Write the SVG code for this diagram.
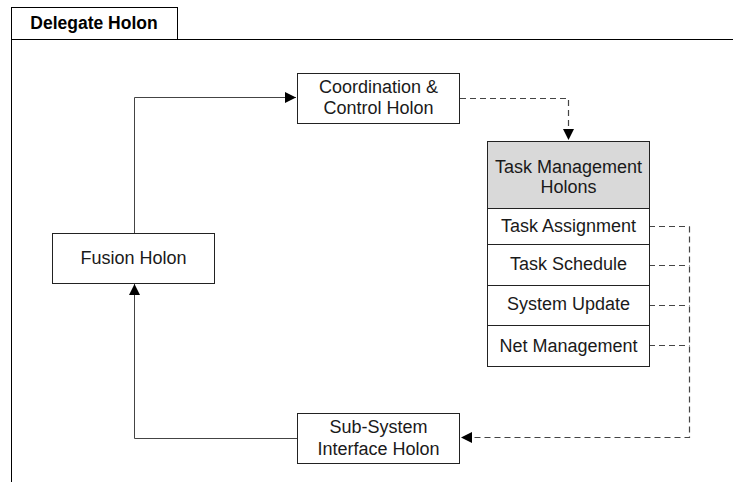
<svg xmlns="http://www.w3.org/2000/svg" width="733" height="482" viewBox="0 0 733 482">
  <style>
    .box { fill: #ffffff; stroke: #222222; stroke-width: 1; }
    .head { fill: #d9d9d9; stroke: #222222; stroke-width: 1; }
    .lbl { font-family: "Liberation Sans", Arial, sans-serif; font-size: 18px; fill: #1a1a1a; text-anchor: middle; }
    .title { font-family: "Liberation Sans", Arial, sans-serif; font-size: 17.5px; font-weight: bold; fill: #000000; text-anchor: middle; }
    .solid { fill: none; stroke: #444444; stroke-width: 1; }
    .dash { fill: none; stroke: #444444; stroke-width: 1.2; stroke-dasharray: 6 4; }
  </style>
  <defs>
    <marker id="arrow" markerWidth="12" markerHeight="12" refX="11" refY="6" orient="auto" markerUnits="userSpaceOnUse">
      <path d="M0,0.5 L11,6 L0,11.5 Z" fill="#000000"/>
    </marker>
  </defs>
  <rect width="733" height="482" fill="#ffffff"/>

  <!-- frame with title tab -->
  <g id="frame">
    <path d="M11.5,482 L11.5,39.5 L733,39.5" fill="none" stroke="#000000" stroke-width="1"/>
    <rect x="11.5" y="7.5" width="166" height="32" fill="#ffffff" stroke="#000000" stroke-width="1"/>
    <text class="title" x="94" y="29">Delegate Holon</text>
  </g>

  <!-- connectors -->
  <g id="connectors">
    <path class="solid" d="M134.5,233 L134.5,97.5 L296,97.5" marker-end="url(#arrow)"/>
    <path class="solid" d="M297,438.5 L134.5,438.5 L134.5,284" marker-end="url(#arrow)"/>
    <path class="dash" d="M460,98.5 L568.5,98.5 L568.5,140" marker-end="url(#arrow)"/>
    <path class="dash" d="M649,226.5 L689.5,226.5"/>
    <path class="dash" d="M649,265.5 L689.5,265.5"/>
    <path class="dash" d="M649,305.5 L689.5,305.5"/>
    <path class="dash" d="M649,345.5 L689.5,345.5"/>
    <path class="dash" d="M689.5,226.5 L689.5,437.5 L461,437.5" marker-end="url(#arrow)"/>
  </g>

  <g id="coordination">
    <rect class="box" x="297.5" y="73.5" width="162" height="50"/>
    <text class="lbl" x="378.5" y="93">Coordination &amp;</text>
    <text class="lbl" x="378.5" y="114">Control Holon</text>
  </g>

  <g id="fusion">
    <rect class="box" x="52.5" y="233.5" width="162" height="50"/>
    <text class="lbl" x="133.5" y="264">Fusion Holon</text>
  </g>

  <g id="subsystem">
    <rect class="box" x="297.5" y="413.5" width="162" height="50"/>
    <text class="lbl" x="378.5" y="433">Sub-System</text>
    <text class="lbl" x="378.5" y="455">Interface Holon</text>
  </g>

  <g id="task-management">
    <rect class="head" x="487.5" y="141.5" width="162" height="67"/>
    <text class="lbl" x="568.5" y="173">Task Management</text>
    <text class="lbl" x="568.5" y="193">Holons</text>
    <rect class="box" x="487.5" y="208.5" width="162" height="36"/>
    <text class="lbl" x="568.5" y="232">Task Assignment</text>
    <rect class="box" x="487.5" y="244.5" width="162" height="41"/>
    <text class="lbl" x="568.5" y="270">Task Schedule</text>
    <rect class="box" x="487.5" y="285.5" width="162" height="40"/>
    <text class="lbl" x="568.5" y="310">System Update</text>
    <rect class="box" x="487.5" y="325.5" width="162" height="41"/>
    <text class="lbl" x="568.5" y="352">Net Management</text>
  </g>
</svg>
